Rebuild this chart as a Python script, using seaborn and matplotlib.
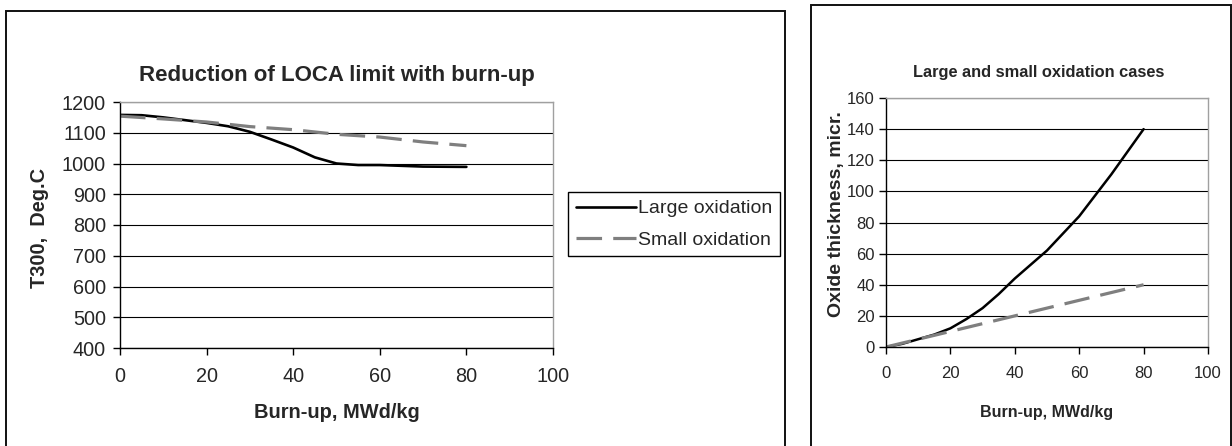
import matplotlib
matplotlib.use("Agg")
import matplotlib.pyplot as plt
import seaborn as sns
import pandas as pd
from matplotlib.patches import Rectangle

# LOCA limit vs burn-up (left chart)
burnup_large = [0, 5, 10, 20, 25, 30, 35, 40, 45, 50, 55, 60, 70, 80]
t300_large = [1158, 1157, 1150, 1132, 1121, 1103, 1078, 1052, 1020, 1000, 995, 995, 990, 989]
burnup_small = [0, 10, 20, 30, 40, 50, 60, 70, 80]
t300_small = [1154, 1145, 1135, 1120, 1110, 1095, 1086, 1070, 1058]

# oxide thickness vs burn-up (right chart)
oxb_large = [0, 5, 10, 15, 20, 25, 30, 35, 40, 50, 60, 70, 80]
oxide_large = [0, 2, 5, 8, 12, 18, 25, 34, 44, 62, 84, 111, 140]
oxb_small = [0, 10, 20, 30, 40, 50, 60, 70, 80]
oxide_small = [0, 5, 10, 15, 20, 25, 30, 35, 40]

series_names = ["Large oxidation", "Small oxidation"]

sns.set_style("white")
plt.rcParams["font.family"] = ["Liberation Sans", "DejaVu Sans"]

W, H = 1232, 446
fig = plt.figure(figsize=(W / 100, H / 100), dpi=100)

def fx(px):
    return px / W

def fy(py):
    return 1 - py / H

# chart boxes (bottom edge falls outside the picture)
fig.add_artist(Rectangle((fx(6), fy(470)), fx(785 - 6), (470 - 11) / H,
                         transform=fig.transFigure, fill=False, ec="#111111", lw=1.4))
fig.add_artist(Rectangle((fx(811), fy(470)), fx(1231 - 811), (470 - 5) / H,
                         transform=fig.transFigure, fill=False, ec="#111111", lw=1.4))

ax1 = fig.add_axes([fx(120), fy(348), fx(553 - 120), (348 - 102) / H])
ax2 = fig.add_axes([fx(886), fy(347), fx(1208 - 886), (347 - 98) / H])

df_l1 = pd.DataFrame({"x": burnup_large, "y": t300_large})
df_l2 = pd.DataFrame({"x": burnup_small, "y": t300_small})
sns.lineplot(data=df_l1, x="x", y="y", ax=ax1, color="black", lw=1.9, label=series_names[0])
sns.lineplot(data=df_l2, x="x", y="y", ax=ax1, color="#7f7f7f", lw=2.3,
             dashes=(8, 3.5), label=series_names[1])

df_r1 = pd.DataFrame({"x": oxb_large, "y": oxide_large})
df_r2 = pd.DataFrame({"x": oxb_small, "y": oxide_small})
sns.lineplot(data=df_r1, x="x", y="y", ax=ax2, color="black", lw=1.8)
sns.lineplot(data=df_r2, x="x", y="y", ax=ax2, color="#7f7f7f", lw=2.3, dashes=(8, 3.5))

def style_axes(ax, ylim, ystep, fs, ypad):
    ax.set_xlim(0, 100)
    ax.set_ylim(*ylim)
    ax.set_xticks(range(0, 101, 20))
    ax.set_yticks(range(ylim[0], ylim[1] + 1, ystep))
    ax.yaxis.grid(True, color="black", lw=0.8)
    ax.set_axisbelow(True)
    for s in ["top", "right"]:
        ax.spines[s].set_color("#a0a0a0")
        ax.spines[s].set_linewidth(1.0)
    for s in ["left", "bottom"]:
        ax.spines[s].set_color("black")
        ax.spines[s].set_linewidth(1.0)
    ax.tick_params(axis="both", direction="out", length=5, width=1, color="black",
                   labelsize=fs, bottom=True, left=True)
    ax.tick_params(axis="x", pad=9)
    ax.tick_params(axis="y", pad=ypad)
    ax.set_xlabel("")
    ax.set_ylabel("")

style_axes(ax1, (400, 1200), 100, 14.3, 5)
style_axes(ax2, (0, 160), 20, 12, 3)

# titles and axis labels
fig.text(fx(337), fy(76), "Reduction of LOCA limit with burn-up", ha="center", va="center",
         fontsize=16, fontweight="bold")
fig.text(fx(337), fy(412), "Burn-up, MWd/kg", ha="center", va="center",
         fontsize=14.4, fontweight="bold")
fig.text(fx(40), fy(228), "T300,  Deg.C", ha="center", va="center", rotation=90,
         fontsize=14.4, fontweight="bold")

fig.text(fx(1039), fy(72), "Large and small oxidation cases", ha="center", va="center",
         fontsize=11.8, fontweight="bold")
fig.text(fx(1047), fy(413), "Burn-up, MWd/kg", ha="center", va="center",
         fontsize=11.5, fontweight="bold")
fig.text(fx(836), fy(214), "Oxide thickness, micr.", ha="center", va="center", rotation=90,
         fontsize=14, fontweight="bold")

leg = ax1.legend(loc="upper left", bbox_to_anchor=(fx(568), fy(192)),
                 bbox_transform=fig.transFigure, borderaxespad=0, fontsize=14,
                 frameon=True, fancybox=False, edgecolor="black", framealpha=1,
                 handlelength=3.1, handletextpad=0.1, labelspacing=0.7, borderpad=0.4)
leg.get_frame().set_linewidth(1.0)

fig.savefig("out.png", dpi=100)
